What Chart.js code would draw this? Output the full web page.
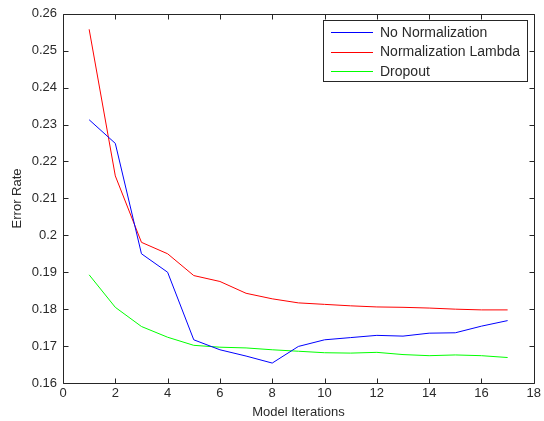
<!DOCTYPE html>
<html>
<head>
<meta charset="utf-8">
<script src="https://cdn.jsdelivr.net/npm/chart.js@4.4.1/dist/chart.umd.min.js"></script>
<style>
  html, body { margin: 0; padding: 0; background: #fff; }
  #wrap { width: 544px; height: 421px; position: relative; }
</style>
</head>
<body>
<div id="wrap"><canvas id="c" width="544" height="421"></canvas></div>
<script>
// Training iterations on the x axis
const iterations = [1, 2, 3, 4, 5, 6, 7, 8, 9, 10, 11, 12, 13, 14, 15, 16, 17];

// Error rate per iteration for each regularisation setting
const noNormalization = [0.2313, 0.2249, 0.1950, 0.1900, 0.1717, 0.1690, 0.1673, 0.1654, 0.1699,
                         0.1717, 0.1723, 0.1729, 0.1727, 0.1735, 0.1736, 0.1754, 0.1769];
const normalizationLambda = [0.2558, 0.2161, 0.1981, 0.1950, 0.1891, 0.1875, 0.1843, 0.1828, 0.1817,
                             0.1813, 0.1809, 0.1806, 0.1805, 0.1803, 0.1800, 0.1798, 0.1798];
const dropout = [0.1893, 0.1805, 0.1753, 0.1724, 0.1702, 0.1697, 0.1695, 0.1690, 0.1686,
                 0.1682, 0.1681, 0.1683, 0.1677, 0.1674, 0.1676, 0.1674, 0.1669];

const seriesNames = ['No Normalization', 'Normalization Lambda', 'Dropout'];
const seriesColors = ['#0000ff', '#ff0000', '#00ff00'];

const xTicks = [0, 2, 4, 6, 8, 10, 12, 14, 16, 18];
const yTicks = [0.16, 0.17, 0.18, 0.19, 0.2, 0.21, 0.22, 0.23, 0.24, 0.25, 0.26];

const FONT = '"Liberation Sans", Arial, sans-serif';
const AXIS = '#262626';
const TEXT = '#2a2a2a';

function pts(vals) { return iterations.map((x, i) => ({ x: x, y: vals[i] })); }

// Box around the axes with inward ticks on all four sides, plus a boxed legend
const boxAxes = {
  id: 'boxAxes',
  afterDatasetsDraw(chart) {
    const ctx = chart.ctx;
    const a = chart.chartArea;
    const xs = chart.scales.x, ys = chart.scales.y;
    const L = 5;
    ctx.save();
    ctx.strokeStyle = AXIS;
    ctx.lineWidth = 1;
    const l = Math.round(a.left) + 0.5, r = Math.round(a.right) + 0.5;
    const t = Math.round(a.top) + 0.5, b = Math.round(a.bottom) + 0.5;
    ctx.beginPath();
    ctx.rect(l, t, r - l, b - t);
    ctx.stroke();
    ctx.beginPath();
    xTicks.forEach(v => {
      const px = Math.round(xs.getPixelForValue(v)) + 0.5;
      ctx.moveTo(px, b); ctx.lineTo(px, b - L);
      ctx.moveTo(px, t); ctx.lineTo(px, t + L);
    });
    yTicks.forEach(v => {
      const py = Math.round(ys.getPixelForValue(v)) + 0.5;
      ctx.moveTo(l, py); ctx.lineTo(l + L, py);
      ctx.moveTo(r, py); ctx.lineTo(r - L, py);
    });
    ctx.stroke();

    // legend
    const lx = 323.5, ly = 20.5, lw = 204, lh = 61;
    ctx.fillStyle = '#fff';
    ctx.fillRect(lx, ly, lw, lh);
    ctx.strokeStyle = AXIS;
    ctx.strokeRect(lx, ly, lw, lh);
    ctx.font = '14px ' + FONT;
    ctx.textBaseline = 'middle';
    ctx.textAlign = 'left';
    chart.data.datasets.forEach((ds, i) => {
      const y = 32 + i * 19.5;
      ctx.strokeStyle = ds.borderColor;
      ctx.beginPath();
      ctx.moveTo(331, Math.round(y) + 0.5);
      ctx.lineTo(373, Math.round(y) + 0.5);
      ctx.stroke();
      ctx.fillStyle = TEXT;
      ctx.fillText(ds.label, 380, y + 1);
    });
    ctx.restore();
  }
};

new Chart(document.getElementById('c'), {
  type: 'line',
  data: {
    datasets: [noNormalization, normalizationLambda, dropout].map((vals, i) => ({
      label: seriesNames[i],
      data: pts(vals),
      borderColor: seriesColors[i],
      backgroundColor: seriesColors[i],
      borderWidth: 1,
      pointRadius: 0,
      tension: 0,
      fill: false
    }))
  },
  options: {
    responsive: false,
    animation: false,
    devicePixelRatio: 1,
    layout: { padding: { left: 0, top: 12, right: 10, bottom: 0 } },
    plugins: { legend: { display: false }, tooltip: { enabled: false } },
    scales: {
      x: {
        type: 'linear',
        min: 0, max: 18,
        afterBuildTicks(s) { s.ticks = xTicks.map(v => ({ value: v })); },
        afterFit(s) { s.height = 38; },
        grid: { display: false, drawTicks: false },
        border: { display: false },
        ticks: { color: TEXT, font: { family: FONT, size: 13 }, padding: 3, maxRotation: 0 },
        title: { display: true, text: 'Model Iterations', color: TEXT,
                 font: { family: FONT, size: 13 }, padding: { top: 0, bottom: 1 } }
      },
      y: {
        type: 'linear',
        min: 0.16, max: 0.26,
        afterBuildTicks(s) { s.ticks = yTicks.map(v => ({ value: v })); },
        afterFit(s) { s.width = 63; },
        grid: { display: false, drawTicks: false },
        border: { display: false },
        ticks: { color: TEXT, font: { family: FONT, size: 13 }, padding: 6,
                 callback: v => String(+v.toFixed(2)) },
        title: { display: true, text: 'Error Rate', color: TEXT,
                 font: { family: FONT, size: 13 }, padding: { top: 10, bottom: 0 } }
      }
    }
  },
  plugins: [boxAxes]
});
</script>
</body>
</html>
